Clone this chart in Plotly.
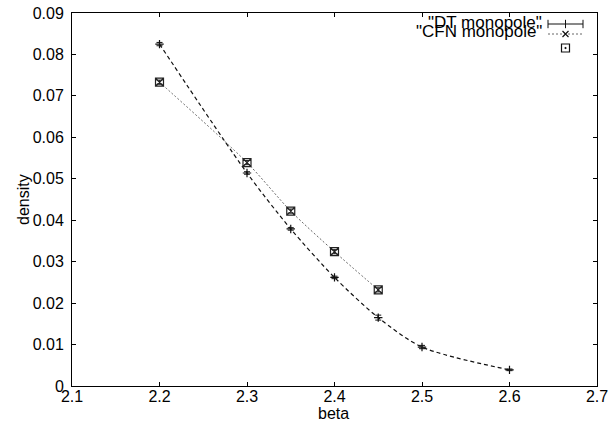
import plotly.graph_objects as go

# Data
dt_beta = [2.2, 2.3, 2.35, 2.4, 2.45, 2.5, 2.6]
dt_density = [0.0825, 0.0514, 0.0379, 0.0262, 0.0165, 0.0094, 0.0039]
dt_err = [0.0004, 0.0003, 0.0003, 0.0003, 0.0006, 0.0004, 0.0002]

cfn_beta = [2.2, 2.3, 2.35, 2.4, 2.45]
cfn_density = [0.0733, 0.0539, 0.0422, 0.0324, 0.0232]
cfn_err = [0.0005, 0.0005, 0.0005, 0.0005, 0.0005]

x_ticks = [2.1, 2.2, 2.3, 2.4, 2.5, 2.6, 2.7]
y_ticks = [0, 0.01, 0.02, 0.03, 0.04, 0.05, 0.06, 0.07, 0.08, 0.09]

W, H = 611, 423
PL, PR, PT, PB = 72, 597, 13, 386          # plot area in page pixels
L, T, R, B = PL, PT, W - PR, H - PB
PW, PH = PR - PL, PB - PT

def px(x):
    return (x - PL) / PW

def py(y):
    return (PB - y) / PH

FONT = "Liberation Sans, Arial, Helvetica, sans-serif"

fig = go.Figure()

fig.add_trace(go.Scatter(x=dt_beta, y=dt_density, mode="lines",
                         line=dict(color="#111", width=1.2, dash="4px,3px", shape="spline", smoothing=0.8),
                         showlegend=False, hoverinfo="skip"))
fig.add_trace(go.Scatter(x=dt_beta, y=dt_density, mode="markers",
                         marker=dict(symbol="cross-thin", size=6, color="#111", line=dict(width=1.2, color="#111")),
                         error_y=dict(type="data", array=dt_err, visible=True, color="#111", thickness=1, width=3),
                         showlegend=False))
fig.add_trace(go.Scatter(x=cfn_beta, y=cfn_density, mode="lines",
                         line=dict(color="#666", width=1, dash="2px,2px", shape="spline", smoothing=0.8),
                         showlegend=False, hoverinfo="skip"))
fig.add_trace(go.Scatter(x=cfn_beta, y=cfn_density, mode="markers",
                         marker=dict(symbol="square-x-open", size=8, color="#222", line=dict(width=1.2, color="#222")),
                         error_y=dict(type="data", array=cfn_err, visible=True, color="#222", thickness=1, width=3),
                         showlegend=False))

# Legend samples
lx0, lx1, lxm = px(548), px(583), px(565.5)
y1, y2, y3 = py(24), py(34), py(48)
fig.add_trace(go.Scatter(x=[lx0, lx1], y=[y1, y1], mode="lines", xaxis="x2", yaxis="y2",
                         line=dict(color="#111", width=1), showlegend=False, hoverinfo="skip"))
fig.add_trace(go.Scatter(x=[lx0, lx1, lxm], y=[y1, y1, y1], mode="markers", xaxis="x2", yaxis="y2",
                         marker=dict(symbol="line-ns", size=6, line=dict(width=1, color="#111")),
                         showlegend=False, hoverinfo="skip"))
fig.add_trace(go.Scatter(x=[lx0, lx1], y=[y2, y2], mode="lines", xaxis="x2", yaxis="y2",
                         line=dict(color="#666", width=1, dash="2px,2px"), showlegend=False, hoverinfo="skip"))
fig.add_trace(go.Scatter(x=[lxm], y=[y2], mode="markers", xaxis="x2", yaxis="y2",
                         marker=dict(symbol="x-thin", size=6, line=dict(width=1.2, color="#111")),
                         showlegend=False, hoverinfo="skip"))
fig.add_trace(go.Scatter(x=[lxm], y=[y3], mode="markers", xaxis="x2", yaxis="y2",
                         marker=dict(symbol="square-dot", size=8, color="rgba(0,0,0,0)",
                                     line=dict(width=1.2, color="#111")),
                         showlegend=False, hoverinfo="skip"))

fig.add_annotation(x=px(544), y=py(22.5), xref="paper", yref="paper", text='"DT monopole"',
                   showarrow=False, xanchor="right", yanchor="middle",
                   font=dict(family=FONT, size=17, color="#000"))
fig.add_annotation(x=px(544), y=py(31.5), xref="paper", yref="paper", text='"CFN monopole"',
                   showarrow=False, xanchor="right", yanchor="middle",
                   font=dict(family=FONT, size=17, color="#000"))

# axis titles
fig.add_annotation(x=px(333), y=py(413), xref="paper", yref="paper", text="beta",
                   showarrow=False, xanchor="center", yanchor="middle",
                   font=dict(family=FONT, size=16, color="#000"))
fig.add_annotation(x=px(23), y=py(200), xref="paper", yref="paper", text="density", textangle=-90,
                   showarrow=False, xanchor="center", yanchor="middle",
                   font=dict(family=FONT, size=16, color="#000"))

axis_common = dict(showgrid=False, zeroline=False, showline=True, linecolor="#000", linewidth=1,
                   mirror="allticks", ticks="inside", ticklen=4, tickcolor="#000", automargin=False,
                   ticklabeloverflow="allow",
                   tickfont=dict(family=FONT, size=16, color="#000"))

fig.update_layout(
    width=W, height=H,
    margin=dict(l=L, r=R, t=T, b=B, autoexpand=False),
    paper_bgcolor="white", plot_bgcolor="white",
    xaxis=dict(range=[2.1, 2.7], tickvals=x_ticks, ticktext=[f"{v:g}" for v in x_ticks],
               ticklabelstandoff=-4, **axis_common),
    yaxis=dict(range=[0, 0.09], tickvals=y_ticks, ticktext=[f"{v:g}" for v in y_ticks],
               ticklabelstandoff=4, **axis_common),
    xaxis2=dict(range=[0, 1], overlaying="x", visible=False, fixedrange=True),
    yaxis2=dict(range=[0, 1], overlaying="y", visible=False, fixedrange=True),
    showlegend=False,
)

fig.write_html("out.html", config={"displayModeBar": False},
               post_script="document.body.style.margin='0';document.body.style.overflow='hidden';")
